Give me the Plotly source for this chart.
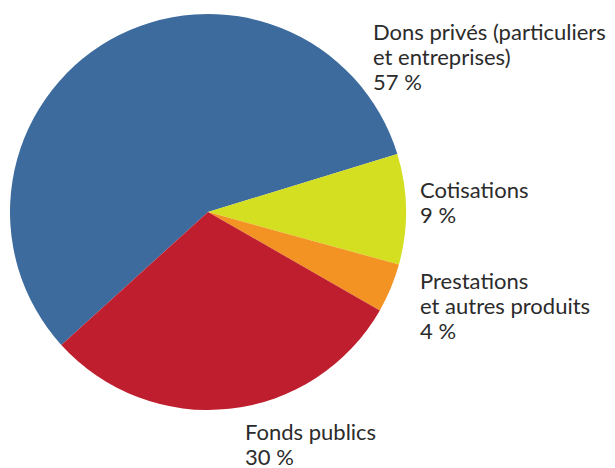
import plotly.graph_objects as go

# Budget breakdown by source of funding
labels = ["Dons privés (particuliers<br>et entreprises)", "Cotisations",
          "Prestations<br>et autres produits", "Fonds publics"]
values = [57, 9, 4, 30]
colors = ["#3D6B9E", "#D4DF22", "#F39323", "#BE1E2D"]

W, H = 615, 468

# Left edge and first-line baseline of each label block, in pixels
label_left = [372, 419, 419, 244]
label_base = [39, 197, 288, 439]
LINE_GAP = 25
FONT_SIZE = 22

fig = go.Figure(go.Pie(
    labels=labels,
    values=values,
    marker=dict(colors=colors, line=dict(width=0)),
    sort=False,
    direction="clockwise",
    rotation=227.8,
    textinfo="none",
    hoverinfo="label+percent",
    domain=dict(x=[10 / W, 406 / W], y=[1 - 410 / H, 1 - 14 / H]),
    showlegend=False,
))

# Each label is drawn line by line so the leading stays tight
for lab, val, x0, b0 in zip(labels, values, label_left, label_base):
    lines = lab.split("<br>") + [f"{val} %"]
    for i, line in enumerate(lines):
        base = b0 + i * LINE_GAP
        centre = base - 0.33 * FONT_SIZE
        fig.add_annotation(
            x=x0 / W, y=1 - centre / H, xref="paper", yref="paper",
            xanchor="left", yanchor="middle", align="left",
            text=line, showarrow=False,
            borderpad=0,
            font=dict(family="Lato", size=FONT_SIZE, color="#2B2B2B"),
        )

fig.update_layout(
    width=W, height=H,
    margin=dict(l=0, r=0, t=0, b=0),
    paper_bgcolor="white",
    plot_bgcolor="white",
)

fig.write_html("out.html")
